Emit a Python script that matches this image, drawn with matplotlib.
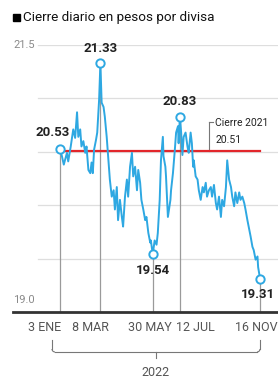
import numpy as np
import matplotlib
matplotlib.use("Agg")
import matplotlib.pyplot as plt
import matplotlib.transforms as mtransforms

# ---- data (day of year 2022, pesos per dollar) ----
days = [3, 6, 9, 14, 16, 20, 24, 27, 30, 32, 35, 37, 40, 43, 45, 48, 51, 53, 55, 57,
        60, 62, 65, 67, 69, 72, 74, 77, 80, 82, 85, 88, 90, 93, 95, 98, 101, 103, 106,
        109, 111, 114, 117, 119, 122, 125, 127, 130, 132, 135, 138, 140, 143, 146, 147,
        150, 153, 156, 158, 161, 163, 166, 167, 170, 171, 174, 178, 179, 182, 185, 187,
        190, 191, 193, 195, 197, 199, 202, 205, 207, 210, 212, 214, 215, 218, 221, 223,
        226, 229, 231, 234, 236, 239, 242, 244, 247, 250, 252, 255, 258, 260, 263, 266,
        268, 271, 274, 276, 279, 281, 284, 287, 289, 292, 295, 297, 300, 302, 305, 308,
        310, 313, 316, 317, 319, 320]
values = [20.53, 20.46, 20.38, 20.49, 20.41, 20.55, 20.71, 20.63, 20.87, 20.64, 20.71,
          20.55, 20.60, 20.49, 20.55, 20.33, 20.30, 20.40, 20.30, 20.52, 20.61, 20.68,
          20.99, 21.33, 20.96, 20.92, 20.83, 20.64, 20.40, 20.24, 20.08, 20.14, 19.96,
          20.17, 19.86, 20.05, 19.89, 19.80, 20.08, 20.24, 20.08, 20.36, 20.49, 20.27,
          20.36, 20.14, 20.33, 20.21, 20.05, 19.96, 19.86, 19.89, 19.74, 19.65, 19.67,
          19.54, 19.67, 19.63, 19.74, 20.05, 20.42, 20.64, 20.46, 20.36, 20.27, 19.89,
          20.05, 20.14, 20.30, 20.52, 20.68, 20.74, 20.58, 20.83, 20.68, 20.47, 20.64,
          20.68, 20.55, 20.49, 20.68, 20.58, 20.36, 20.42, 20.27, 20.24, 20.14, 20.05,
          20.17, 20.12, 20.21, 20.08, 20.14, 20.17, 20.08, 20.19, 20.02, 19.96, 20.08,
          19.89, 20.05, 19.99, 20.17, 20.42, 20.24, 20.17, 20.08, 19.99, 20.12, 20.02,
          20.12, 20.05, 20.08, 20.02, 19.96, 19.86, 19.80, 19.71, 19.61, 19.58, 19.49,
          19.52, 19.42, 19.35, 19.31]

tick_days = [3, 67, 150, 193, 320]
tick_labels = ["3 ENE", "8 MAR", "30 MAY", "12 JUL", "16 NOV"]
tick_label_shift_px = [-15, -10, -3, 15, -4]

mark_days = [3, 67, 150, 193, 320]
mark_values = [20.53, 21.33, 19.54, 20.83, 19.31]
mark_labels = ["20.53", "21.33", "19.54", "20.83", "19.31"]

close_2021 = 20.51
year_label = "2022"
title = "Cierre diario en pesos por divisa"

FONT = "Roboto"
BLUE = "#2ea8e2"
RED = "#e2262b"
GRID = "#dedede"
DARK = "#222222"
GRAYTXT = "#8a8a8a"

W, H = 278, 385
fig = plt.figure(figsize=(W / 100, H / 100), dpi=100)
ax = fig.add_axes([13 / W, (H - 312) / H, 265 / W, 267 / H])
ax.set_xlim(-71.5, 348.5)
ax.set_ylim(19.0, 21.5)
for s in ax.spines.values():
    s.set_visible(False)
ax.set_yticks([])
ax.tick_params(axis="x", length=0)

# grid
grid_start = 25 / 265
for gy in [19.5, 20.0, 20.5, 21.0, 21.5]:
    ax.axhline(gy, xmin=grid_start, xmax=1, color=GRID, lw=0.9, zorder=1)

# bottom axis
ax.axhline(19.0, color="#333333", lw=2.0, zorder=5, clip_on=False)

# y labels
ax.text(-71.5, 21.5, "21.5", transform=ax.transData, ha="left", va="center",
        fontsize=8, color=GRAYTXT, family=FONT)
ax.annotate("19.0", xy=(-71.5, 19.0), xytext=(0, 12), textcoords="offset pixels",
            ha="left", va="center", fontsize=8, color=GRAYTXT, family=FONT)

# vertical lines to markers
for d, v in zip(mark_days, mark_values):
    ax.plot([d, d], [19.0, v], color="#9a9a9a", lw=0.9, zorder=2)

# red line
ax.plot([days[0], days[-1]], [close_2021, close_2021], color=RED, lw=1.6, zorder=3)

# series
ax.plot(days, values, color=BLUE, lw=1.4, zorder=4, solid_joinstyle="round")
ax.plot(mark_days, mark_values, "o", ms=6, mfc="white", mec=BLUE, mew=1.4, zorder=6,
        clip_on=False)

# marker value labels
offsets = [(-7, 16), (0, 15), (0, -16), (0, 15), (-2, -16)]
for d, v, lab, (dx, dy) in zip(mark_days, mark_values, mark_labels, offsets):
    ax.annotate(lab, xy=(d, v), xytext=(dx, dy), textcoords="offset pixels",
                ha="center", va="center", fontsize=9.5, fontweight="bold", color=DARK,
                family=FONT, annotation_clip=False)

# Cierre 2021 annotation
bx = 3 + (209 - 60) * 1.585
ax.plot([bx, bx], [close_2021, close_2021 + 0.27], color="#777777", lw=0.8, zorder=2)
ax.plot([bx, bx + 6], [close_2021 + 0.27, close_2021 + 0.27], color="#777777", lw=0.8)
ax.text(bx + 9, close_2021 + 0.26, "Cierre 2021", ha="left", va="center", fontsize=7.5,
        color=DARK, family=FONT, clip_on=False)
ax.text(bx + 10, close_2021 + 0.10, f"{close_2021:.2f}", ha="left", va="center", fontsize=7.5,
        color=DARK, family=FONT, clip_on=False)

# x tick labels
ax.set_xticks(tick_days)
ax.set_xticklabels(tick_labels, fontsize=9, color="#555555", family=FONT)
for lbl, sh in zip(ax.get_xticklabels(), tick_label_shift_px):
    lbl.set_transform(lbl.get_transform() + mtransforms.Affine2D().translate(sh, -4))

# year brace (in figure pixels)
def fx(px):
    return px / W
def fy(py):
    return (H - py) / H
bl, br, bt, bb, bm = 52, 260, 340, 352, 156
brace_col = "#777777"
fig.add_artist(plt.Line2D([fx(bl), fx(bl)], [fy(bt), fy(bb - 3)], color=brace_col, lw=0.8))
fig.add_artist(plt.Line2D([fx(br), fx(br)], [fy(bt), fy(bb - 3)], color=brace_col, lw=0.8))
fig.add_artist(plt.Line2D([fx(bl + 3), fx(br - 3)], [fy(bb), fy(bb)], color=brace_col, lw=0.8))
fig.add_artist(matplotlib.patches.Arc((fx(bl + 3), fy(bb - 3)), 6 / W, 6 / H, theta1=180, theta2=270,
               transform=fig.transFigure, color=brace_col, lw=0.8))
fig.add_artist(matplotlib.patches.Arc((fx(br - 3), fy(bb - 3)), 6 / W, 6 / H, theta1=270, theta2=360,
               transform=fig.transFigure, color=brace_col, lw=0.8))
fig.add_artist(plt.Line2D([fx(bm), fx(bm)], [fy(bb), fy(bb + 6)], color=brace_col, lw=0.8))
fig.text(fx(bm), fy(373), year_label, ha="center", va="center", fontsize=9, color="#555555",
         family=FONT)

# title
fig.add_artist(matplotlib.patches.Rectangle((fx(13), fy(21)), 7 / W, 7 / H, color="black",
               transform=fig.transFigure))
fig.text(fx(23), fy(17), title, ha="left", va="center", fontsize=9.7, color="#111111",
         family=FONT)

fig.savefig("out.png", dpi=100)
